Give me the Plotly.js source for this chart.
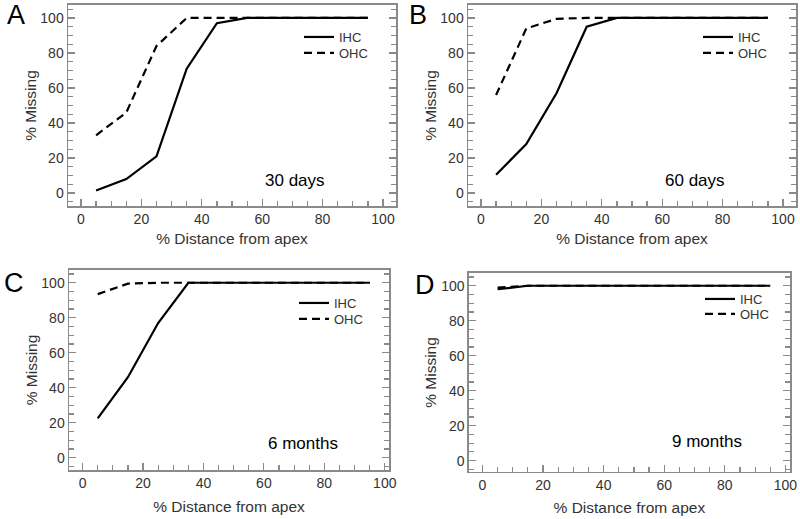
<!DOCTYPE html>
<html><head><meta charset="utf-8">
<script src="https://cdn.plot.ly/plotly-3.0.1.min.js"></script>
<style>html,body{margin:0;padding:0;background:#fff}#chart{width:800px;height:519px}</style>
</head><body><div id="chart"></div>
<script>
// Distance from apex (%)
const distance = [5, 15, 25, 35, 45, 55, 65, 75, 85, 95];
// % missing, per panel
const ihc30d = [1.5, 8, 21, 71, 97, 100, 100, 100, 100, 100];
const ohc30d = [33, 46, 84, 100, 100, 100, 100, 100, 100, 100];
const ihc60d = [10.5, 28, 57, 95, 100, 100, 100, 100, 100, 100];
const ohc60d = [56, 94, 99.5, 100, 100, 100, 100, 100, 100, 100];
const ihc6m = [22.5, 46, 77, 100, 100, 100, 100, 100, 100, 100];
const ohc6m = [93.5, 99.5, 100, 100, 100, 100, 100, 100, 100, 100];
const ihc9m = [98, 100, 100, 100, 100, 100, 100, 100, 100, 100];
const ohc9m = [99, 100, 100, 100, 100, 100, 100, 100, 100, 100];
const panelLetters = ['A', 'B', 'C', 'D'];
const panelLabels = ['30 days', '60 days', '6 months', '9 months'];
const seriesNames = ['IHC', 'OHC'];

const FONT = 'Liberation Sans, Arial, Helvetica, sans-serif';
const panels = [
  {ihc: ihc30d, ohc: ohc30d, xd: [0.085, 0.495], yd: [0.603, 0.9904], xr: [-4.3, 104.3], yr: [-7.4, 107.4], leg: [299, 37, 53], lab: [71, 7], let: [16, 15], xs: 7},
  {ihc: ihc60d, ohc: ohc60d, xd: [0.585, 0.995], yd: [0.603, 0.9904], xr: [-4.3, 104.3], yr: [-7.4, 107.4], leg: [698, 37, 53], lab: [71, 7], let: [418, 15], xs: 7},
  {ihc: ihc6m, ohc: ohc6m, xd: [0.08625, 0.48625], yd: [0.0944, 0.4798], xr: [-4.5, 101.4], yr: [-7, 107.3], leg: [294, 303, 319], lab: [73, 8.2], let: [14, 283], xs: 11},
  {ihc: ihc9m, ohc: ohc9m, xd: [0.586, 0.9875], yd: [0.0906, 0.474], xr: [-4.5, 101.5], yr: [-6.5, 107.3], leg: [700, 299, 314], lab: [74, 10.9], let: [425, 285], xs: 10}
];

const data = [];
const layout = {
  width: 800, height: 519,
  margin: {l: 0, r: 0, t: 0, b: 0},
  paper_bgcolor: '#fff', plot_bgcolor: '#fff',
  font: {family: FONT, color: '#333'},
  showlegend: true,
  annotations: []
};

let legendIdx = 0;
function nextLegend(x, yc) {
  legendIdx += 1;
  const key = legendIdx === 1 ? 'legend' : 'legend' + legendIdx;
  layout[key] = {x: x / 800, y: 1 - yc / 519, xanchor: 'left', yanchor: 'middle',
    bgcolor: 'rgba(0,0,0,0)', borderwidth: 0,
    font: {size: 13, color: '#333', family: FONT}};
  return key;
}

panels.forEach((p, i) => {
  const n = i === 0 ? '' : String(i + 1);
  const xa = 'x' + n, ya = 'y' + n;
  const lg1 = nextLegend(p.leg[0], p.leg[1]);
  const lg2 = nextLegend(p.leg[0], p.leg[2]);
  data.push({x: distance, y: p.ihc, xaxis: xa, yaxis: ya, name: seriesNames[0], mode: 'lines', legend: lg1,
    line: {color: '#000', width: 2.2}});
  data.push({x: distance, y: p.ohc, xaxis: xa, yaxis: ya, name: seriesNames[1], mode: 'lines', legend: lg2,
    line: {color: '#000', width: 2.2, dash: '8px,5px'}});
  const axCommon = {
    showgrid: false, zeroline: false, showline: true, linecolor: '#8a8a8a', linewidth: 1.5,
    ticks: 'inside', ticklen: 7, tickwidth: 1.2, tickcolor: '#8a8a8a',
    tickfont: {size: 14, color: '#333', family: FONT}, dtick: 20, tick0: 0
  };
  layout['xaxis' + n] = Object.assign({}, axCommon, {
    domain: p.xd, range: p.xr, anchor: ya, mirror: true,
    minor: {dtick: 5, tick0: 0, ticks: 'inside', ticklen: 5, tickcolor: '#8a8a8a', tickwidth: 1.2},
    title: {text: '% Distance from apex', font: {size: 15.5, color: '#333', family: FONT}, standoff: p.xs}
  });
  layout['yaxis' + n] = Object.assign({}, axCommon, {
    domain: p.yd, range: p.yr, anchor: xa, mirror: 'ticks',
    minor: {dtick: 5, tick0: 0, ticks: 'inside', ticklen: 5, tickcolor: '#8a8a8a', tickwidth: 1.2},
    title: {text: '% Missing', font: {size: 15.5, color: '#333', family: FONT}, standoff: 0}
  });
  layout.annotations.push({xref: xa, yref: ya, x: p.lab[0], y: p.lab[1], text: panelLabels[i],
    showarrow: false, font: {size: 17, color: '#000', family: FONT}});
  layout.annotations.push({xref: 'paper', yref: 'paper', x: p.let[0] / 800, y: 1 - p.let[1] / 519,
    text: panelLetters[i], showarrow: false, xanchor: 'center', yanchor: 'middle',
    font: {size: 27, color: '#000', family: FONT}});
});

Plotly.newPlot('chart', data, layout, {displayModeBar: false, staticPlot: true});
</script></body></html>
